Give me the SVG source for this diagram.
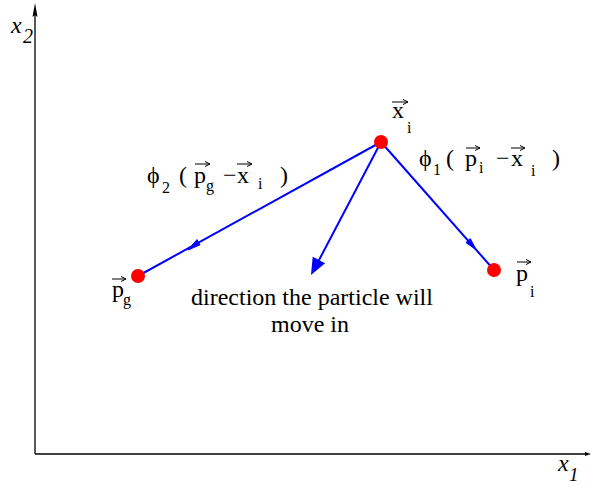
<svg xmlns="http://www.w3.org/2000/svg" width="592" height="486" viewBox="0 0 592 486">
<defs>
<style>
text{font-family:"Liberation Serif","Times New Roman",serif;fill:#000;}
.t{font-size:24px;}
.s{font-size:16px;}
.it{font-style:italic;}
.ax{stroke:#000;stroke-width:1.3;fill:none;}
.ed{stroke:#0000ff;stroke-width:2;fill:none;}
.hd{fill:#0000ff;stroke:#0000ff;stroke-width:1;stroke-linejoin:round;}
.node{fill:#ff0000;}
.vec{stroke:#000;stroke-width:1;fill:none;}
</style>
<marker id="va" markerWidth="6" markerHeight="6" refX="5" refY="3" orient="auto" markerUnits="userSpaceOnUse">
<path d="M0,0.5 L5,3 L0,5.5" fill="none" stroke="#000" stroke-width="1"/>
</marker>
</defs>
<g id="axes">
<path class="ax" d="M35,454 L35,8"/>
<path d="M35,3 L32.5,17 L35,15 L37.5,17 Z" fill="#000"/>
<path class="ax" d="M35,454 L588,454"/>
<path d="M591,454 L585,452 L585,456 Z" fill="#000"/>
<text class="t it" x="11" y="33">x</text><text class="it" style="font-size:20px" x="23" y="43">2</text>
<text class="t it" x="558" y="471">x</text><text class="it" style="font-size:19px" x="569" y="481">1</text>
</g>
<g id="connectors">
<path class="ed" d="M381,142 L138,276"/>
<path class="hd" d="M188,250 L200,244.8 L197,239.6 Z"/>
<path class="ed" d="M381,142 L494,270"/>
<path class="hd" d="M476,249.6 L470.3,238.6 L465.9,242.6 Z"/>
<path class="ed" d="M381,142 L318,262"/>
<path d="M311,275 L312.7,256.7 L325.1,263.3 Z" fill="#0000ff"/>
</g>
<g id="xi">
<circle class="node" cx="381" cy="142" r="7"/>
<text class="t" x="392" y="118">x</text><text class="s" x="407" y="133">i</text>
<path class="vec" d="M392,102 L408,102" marker-end="url(#va)"/>
</g>
<g id="pg">
<circle class="node" cx="138" cy="276" r="7"/>
<text class="t" x="112" y="297">p</text><text class="s" x="123" y="305">g</text>
<path class="vec" d="M112,279 L126,279" marker-end="url(#va)"/>
</g>
<g id="pi">
<circle class="node" cx="494" cy="270" r="7"/>
<text class="t" x="516" y="281">p</text><text class="s" x="530" y="297">i</text>
<path class="vec" d="M517,262 L531,262" marker-end="url(#va)"/>
</g>
<g id="label-phi1">
<text class="t" x="419" y="166">ϕ</text><text class="s" x="433" y="175">1</text>
<text class="t" x="446" y="166">(</text>
<text class="t" x="465" y="166">p</text><text class="s" x="479" y="173">i</text>
<path class="vec" d="M466,148 L480,148" marker-end="url(#va)"/>
<text class="t" x="496" y="166">−</text>
<text class="t" x="511" y="166">x</text><text class="s" x="531" y="176">i</text>
<path class="vec" d="M511,148 L525,148" marker-end="url(#va)"/>
<text class="t" x="552" y="166">)</text>
</g>
<g id="label-phi2">
<text class="t" x="147" y="183">ϕ</text><text class="s" x="162" y="193">2</text>
<text class="t" x="179" y="183">(</text>
<text class="t" x="194" y="183">p</text><text class="s" x="206" y="191">g</text>
<path class="vec" d="M195,164 L210,164" marker-end="url(#va)"/>
<text class="t" x="223" y="183">−</text>
<text class="t" x="237" y="183">x</text><text class="s" x="258" y="189">i</text>
<path class="vec" d="M237,164 L252,164" marker-end="url(#va)"/>
<text class="t" x="280" y="183">)</text>
</g>
<g id="label-direction">
<text class="t" x="312" y="305" text-anchor="middle">direction the particle will</text>
<text class="t" x="310" y="332" text-anchor="middle">move in</text>
</g>
</svg>
